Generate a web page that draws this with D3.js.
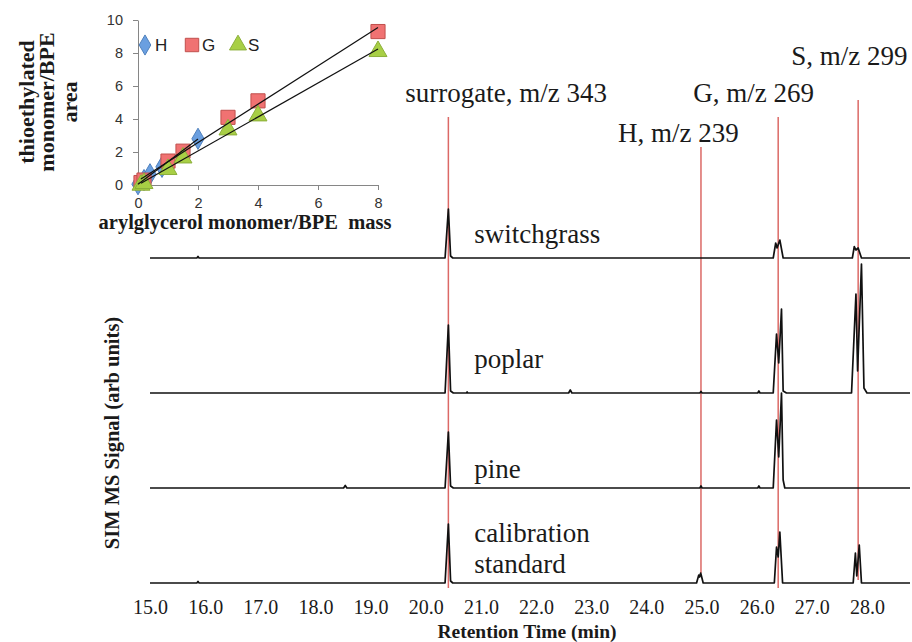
<!DOCTYPE html>
<meta charset="utf-8">
<style>
body { margin: 0; background: #fff; }
svg text { font-family: "Liberation Serif", "Times New Roman", serif; fill: #1a1a1a; }
.trace { fill: none; stroke: #111; stroke-width: 1.7; stroke-linejoin: round; }
.peakline { stroke: #d6504c; stroke-width: 1.5; opacity: 0.85; }
.x.axis path, .x.axis line { display: none; }
.inset .axis path, .inset .axis line { stroke: #868686; }
.peaklabel, .samplelabel { font-size: 27px; }
.title { font-weight: bold; }
</style>
<body>
<script src="https://cdnjs.cloudflare.com/ajax/libs/d3/7.8.5/d3.min.js"></script>
<script>
// chromatogram traces: [retention time (min), signal (arb units)]
var switchgrass = [[15.0,0],[15.85,0],[15.87,1.5],[15.89,0],[20.35,0],[20.41,49],[20.45,2],[20.49,0],
  [26.30,0],[26.345,15],[26.37,10],[26.42,18],[26.48,0],
  [27.735,0],[27.77,11.5],[27.80,8],[27.84,10],[27.90,0],[28.78,0]];
var poplar = [[15.0,0],[20.35,0],[20.41,68],[20.45,2],[20.50,0],[20.74,0],[20.75,1],[20.76,0],
  [22.59,0],[22.62,3],[22.65,0],[24.97,0],[24.99,1.5],[25.01,0],[26.02,0],[26.04,2],[26.06,0],
  [26.30,0],[26.36,59],[26.40,30],[26.45,84],[26.48,2],[26.54,0],
  [27.72,0],[27.80,99],[27.83,22],[27.90,129],[27.945,5],[28.0,0],[28.78,0]];
var pine = [[15.0,0],[18.51,0],[18.54,2.5],[18.57,0],[20.35,0],[20.41,56],[20.45,2],[20.50,0],
  [24.97,0],[24.99,2],[25.01,0],[26.02,0],[26.04,2],[26.06,0],
  [26.30,0],[26.36,68],[26.40,31],[26.45,95],[26.48,8],[26.51,0],[28.78,0]];
var calibration = [[15.0,0],[15.85,0],[15.87,1.5],[15.89,0],[20.35,0],[20.41,59],[20.45,2],[20.49,0],
  [24.91,0],[24.95,8],[24.965,6],[24.985,10],[25.03,0],
  [26.32,0],[26.36,36],[26.39,26],[26.42,51],[26.47,0],
  [27.75,0],[27.79,30],[27.815,7],[27.86,38],[27.90,0],[28.78,0]];

var sampleNames = ["switchgrass", "poplar", "pine", ["calibration", "standard"]];
var peakNames = ["surrogate, m/z 343", "H, m/z 239", "G, m/z 269", "S, m/z 299"];
var peakTimes = [20.41, 24.99, 26.39, 27.84];
var xTicks = [15, 16, 17, 18, 19, 20, 21, 22, 23, 24, 25, 26, 27, 28];

// inset calibration data
var hMass = [0, 0.2, 0.4, 0.8, 2];
var hArea = [0.05, 0.3, 0.65, 1.1, 2.8];
var gMass = [0.1, 0.2, 1, 1.5, 3, 4, 8];
var gArea = [0.15, 0.3, 1.45, 2.05, 4.1, 5.1, 9.3];
var sMass = [0.1, 0.2, 1, 1.5, 3, 4, 8];
var sArea = [0, 0.1, 0.95, 1.65, 3.35, 4.2, 8.1];

// layout
var width = 912, height = 642;
var traceOffsets = [325, 190, 95, 0];       // stacking of the traces
var lineTops = [466, 436, 466, 483];          // red marker line extents
var lineBottoms = [-5, 10, -5, 3];
var labelDx = [-43, -83, -85, -67];
var labelY = [102, 142, 102, 65];

var svg = d3.select("body").append("svg")
  .attr("width", width)
  .attr("height", height);

var x = d3.scaleLinear().domain([15, 28.78]).range([150, 910]);
var y = d3.scaleLinear().domain([0, 483]).range([583, 100]);

// red marker lines
svg.selectAll(".peakline")
  .data(peakTimes)
  .enter().append("line")
  .attr("class", "peakline")
  .attr("x1", function (d) { return x(d); })
  .attr("x2", function (d) { return x(d); })
  .attr("y1", function (d, i) { return y(lineTops[i]); })
  .attr("y2", function (d, i) { return y(lineBottoms[i]); });

svg.selectAll(".peaklabel")
  .data(peakNames)
  .enter().append("text")
  .attr("class", "peaklabel")
  .attr("x", function (d, i) { return x(peakTimes[i]) + labelDx[i]; })
  .attr("y", function (d, i) { return labelY[i]; })
  .text(function (d) { return d; });

// traces
var traces = [switchgrass, poplar, pine, calibration];
traces.forEach(function (tr, i) {
  var line = d3.line()
    .x(function (d) { return x(d[0]); })
    .y(function (d) { return y(d[1] + traceOffsets[i]); });
  svg.append("path")
    .datum(tr)
    .attr("class", "trace")
    .attr("d", line);
});

// sample labels
var sampleY = [[243], [368], [478], [542, 573]];
sampleNames.forEach(function (name, i) {
  var lines = Array.isArray(name) ? name : [name];
  lines.forEach(function (l, j) {
    svg.append("text")
      .attr("class", "samplelabel")
      .attr("x", x(20.41) + 26)
      .attr("y", sampleY[i][j])
      .text(l);
  });
});

// x axis
var xAxisG = svg.append("g")
  .attr("class", "x axis")
  .attr("transform", "translate(0," + y(0) + ")")
  .call(d3.axisBottom(x).tickValues(xTicks).tickSize(0).tickPadding(17).tickFormat(d3.format(".1f")));
xAxisG.selectAll("text")
  .style("font-family", "'Liberation Serif', 'Times New Roman', serif")
  .style("font-size", "20px")
  .style("fill", "#1a1a1a");

svg.append("text")
  .attr("class", "title")
  .attr("x", 527)
  .attr("y", 638)
  .attr("text-anchor", "middle")
  .style("font-size", "19.5px")
  .text("Retention Time (min)");

svg.append("text")
  .attr("class", "title")
  .attr("transform", "translate(119,433) rotate(-90)")
  .attr("text-anchor", "middle")
  .style("font-size", "20.5px")
  .text("SIM MS Signal (arb units)");

// inset calibration plot
var inset = svg.append("g").attr("class", "inset");
var ix = d3.scaleLinear().domain([0, 8]).range([138, 378]);
var iy = d3.scaleLinear().domain([0, 10]).range([185, 20]);

inset.append("g")
  .attr("class", "axis")
  .attr("transform", "translate(0," + iy(0) + ")")
  .call(d3.axisBottom(ix).tickValues([0, 2, 4, 6, 8]).tickSize(5).tickSizeOuter(0).tickPadding(8));

inset.append("g")
  .attr("class", "axis")
  .attr("transform", "translate(" + ix(0) + ",0)")
  .call(d3.axisLeft(iy).tickValues([0, 2, 4, 6, 8, 10]).tickSize(5).tickSizeOuter(0).tickPadding(10));

inset.selectAll(".axis text")
  .style("font-family", "'Liberation Sans', Arial, sans-serif")
  .style("font-size", "14.5px")
  .style("fill", "#333");

function fit(xs, ys) {
  var mx = d3.mean(xs), my = d3.mean(ys);
  var sxy = d3.sum(xs, function (v, i) { return (v - mx) * (ys[i] - my); });
  var sxx = d3.sum(xs, function (v) { return (v - mx) * (v - mx); });
  var b = sxy / sxx, a = my - b * mx;
  var lo = d3.min(xs), hi = d3.max(xs);
  return [[lo, a + b * lo], [hi, a + b * hi]];
}

var series = [
  { xs: hMass, ys: hArea, shape: d3.symbolDiamond, size: 130, fill: "#6a9fe0", stroke: "#4f81bd", name: "H" },
  { xs: gMass, ys: gArea, shape: d3.symbolSquare, size: 200, fill: "#f07272", stroke: "#c0504d", name: "G" },
  { xs: sMass, ys: sArea, shape: d3.symbolTriangle, size: 140, fill: "#a8cf45", stroke: "#8caf3a", name: "S" }
];

series.forEach(function (s) {
  var pts = s.xs.map(function (v, i) { return [v, s.ys[i]]; });
  inset.selectAll(null)
    .data(pts)
    .enter().append("path")
    .attr("transform", function (d) { return "translate(" + ix(d[0]) + "," + iy(d[1]) + ")"; })
    .attr("d", d3.symbol().type(s.shape).size(s.size))
    .attr("fill", s.fill)
    .attr("stroke", s.stroke)
    .attr("stroke-width", 1);
});

series.forEach(function (s) {
  inset.append("path")
    .datum(fit(s.xs, s.ys))
    .attr("fill", "none")
    .attr("stroke", "#111")
    .attr("stroke-width", 1.2)
    .attr("d", d3.line()
      .x(function (d) { return ix(d[0]); })
      .y(function (d) { return iy(d[1]); }));
});

// legend
var legendX = [145, 192, 238];
series.forEach(function (s, i) {
  inset.append("path")
    .attr("transform", "translate(" + legendX[i] + ",45)")
    .attr("d", d3.symbol().type(s.shape).size(s.size * 0.9))
    .attr("fill", s.fill)
    .attr("stroke", s.stroke);
  inset.append("text")
    .attr("x", legendX[i] + 10)
    .attr("y", 51)
    .style("font-family", "'Liberation Sans', Arial, sans-serif")
    .style("font-size", "17px")
    .style("fill", "#222")
    .text(s.name);
});

inset.append("text")
  .attr("class", "title")
  .attr("x", 245)
  .attr("y", 229)
  .attr("text-anchor", "middle")
  .style("font-size", "20.5px")
  .style("white-space", "pre")
  .text("arylglycerol monomer/BPE  mass");

var yTitle = ["thioethylated", "monomer/BPE", "area"];
var yTitleX = [34, 54, 77];
yTitle.forEach(function (t, i) {
  inset.append("text")
    .attr("class", "title")
    .attr("transform", "translate(" + yTitleX[i] + ",102) rotate(-90)")
    .attr("text-anchor", "middle")
    .style("font-size", "22px")
    .text(t);
});
</script>
</body>
